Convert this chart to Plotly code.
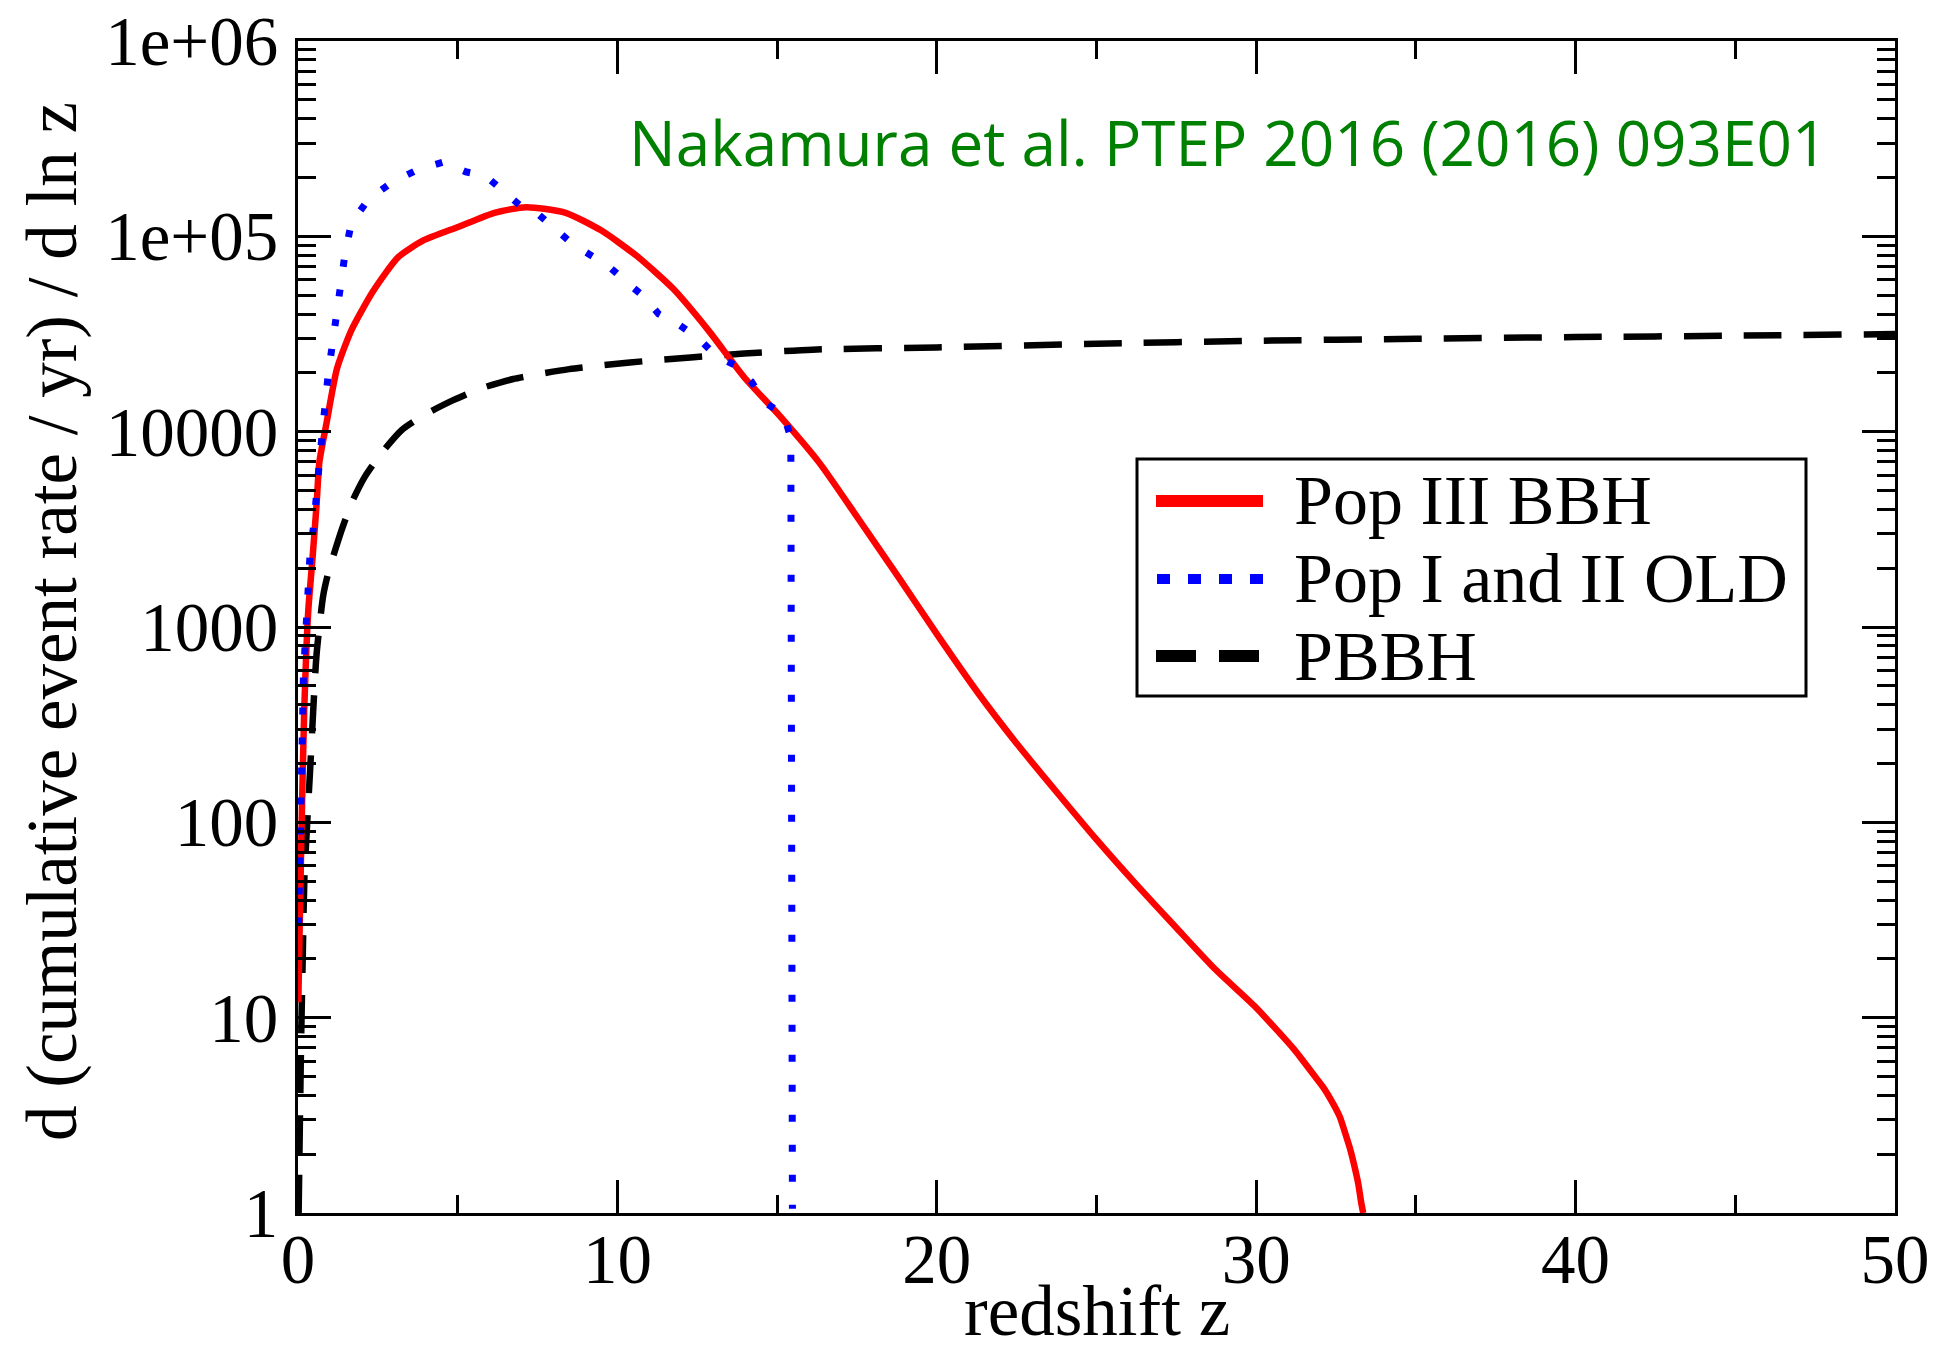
import plotly.graph_objects as go

# ---- data: d(cumulative event rate / yr) / d ln z versus redshift z ----
pop3_z = [0.01, 0.05, 0.115, 0.19, 0.32, 0.45, 0.58, 0.67, 0.89, 1.22, 1.67, 2.34,
          3.13, 3.91, 5.03, 6.15, 7.14, 8.38, 9.50, 10.62, 11.74, 12.85, 13.97,
          15.09, 16.33, 17.56, 18.80, 20.04, 21.28, 22.52, 23.75, 24.99, 26.23,
          27.47, 28.70, 29.94, 31.18, 31.80, 32.10, 32.42, 32.62, 32.79, 32.95,
          33.10, 33.20, 33.28, 33.35]
pop3_rate = [12, 28, 100, 350, 1200, 2200, 4200, 7000, 11000, 21000, 33000, 52000,
             78000, 95000, 112000, 132000, 141000, 132000, 107000, 79000, 54000,
             33000, 19000, 12000, 6900, 3550, 1800, 900, 462, 251, 143, 82, 48.4,
             29.2, 17.8, 11.5, 6.9, 5.1, 4.4, 3.6, 3.1, 2.55, 2.1,
             1.67, 1.4, 1.15, 1.0]

pop12_z = [0.02, 0.10, 0.17, 0.38, 0.50, 0.67, 0.83, 0.95, 1.09, 1.20, 1.36, 1.47,
           1.67, 2.21, 2.96, 3.74, 4.56, 5.25, 5.87, 6.43, 6.93, 7.54, 8.05, 8.61,
           9.22, 9.78, 10.30, 10.84, 11.29, 11.96, 12.54, 13.08, 13.66, 14.20,
           14.64, 15.20, 15.43, 15.48]
pop12_rate = [30, 135, 560, 2400, 3400, 7000, 14000, 20000, 29000, 41000, 58000,
              81000, 117000, 155000, 190000, 219000, 240000, 214000, 204000, 170000,
              145000, 129000, 110000, 91000, 79000, 69000, 58000, 49000, 40000,
              35000, 30000, 24500, 22000, 18000, 14000, 12300, 9300, 1.05]

pbbh_z = [0.02, 0.06, 0.10, 0.15, 0.20, 0.38, 0.58, 0.79, 0.95, 1.37, 1.70, 2.10,
          2.65, 3.25, 4.00, 4.86, 5.70, 6.74, 8.49, 10.39, 12.29, 13.97, 16.10,
          20.0, 25.0, 30.0, 35.0, 40.0, 45.0, 50.0]
pbbh_rate = [1.0, 3.0, 8.0, 21, 52, 186, 720, 1450, 1900, 3150, 4400, 5900, 7900,
             10200, 12300, 14500, 16600, 18600, 20900, 22600, 24000, 25100, 26300,
             27000, 28200, 29200, 29900, 30500, 31000, 31600]

x_tick_vals = [0, 10, 20, 30, 40, 50]
y_tick_vals = [1, 10, 100, 1000, 10000, 100000, 1000000]
y_tick_text = ["1", "10", "100", "1000", "10000", "1e+05", "1e+06"]

series_names = ["Pop III BBH", "Pop I and II OLD", "PBBH"]

# ---- page geometry (pixels) ----
W, H = 1938, 1352
L, R, T, B = 298, 1895, 41, 1213


def px_x(px):
    return (px - L) / (R - L)


def px_y(py):
    return (B - py) / (B - T)


SERIF = "Liberation Serif, Times New Roman, serif"

fig = go.Figure()
fig.add_trace(go.Scatter(x=pbbh_z, y=pbbh_rate, mode="lines", name=series_names[2],
                         line=dict(color="black", width=6.5, dash="38px,22px",
                                   shape="spline", smoothing=0.6),
                         showlegend=False))
fig.add_trace(go.Scatter(x=pop3_z, y=pop3_rate, mode="lines", name=series_names[0],
                         line=dict(color="#ff0000", width=6.5, shape="spline",
                                   smoothing=0.6),
                         showlegend=False))
fig.add_trace(go.Scatter(x=pop12_z, y=pop12_rate, mode="lines", name=series_names[1],
                         line=dict(color="#0000ff", width=7, dash="7px,23px"),
                         showlegend=False))

axis_common = dict(
    showline=True, linewidth=3, linecolor="black", mirror="ticks",
    ticks="inside", ticklen=33, tickwidth=2.5, tickcolor="black",
    showgrid=False, zeroline=False,
    tickfont=dict(family=SERIF, size=69, color="black"),
)

fig.update_xaxes(range=[0, 50], tickvals=x_tick_vals, ticklabelstandoff=-16,
                 minor=dict(ticks="inside", ticklen=18, tickwidth=2.5,
                            tickcolor="black", dtick=5, showgrid=False),
                 **axis_common)
fig.update_yaxes(type="log", range=[0, 6], tickvals=y_tick_vals, ticktext=y_tick_text,
                 ticklabelstandoff=3,
                 minor=dict(ticks="inside", ticklen=18, tickwidth=2.5,
                            tickcolor="black", dtick="D1", showgrid=False),
                 **axis_common)

annotations = [
    # x-axis title sits on the bottom edge of the page
    dict(text="redshift z", x=0.5, y=px_y(H), xref="paper", yref="paper",
         showarrow=False, xanchor="center", yanchor="bottom",
         font=dict(family=SERIF, size=71, color="black")),
    dict(text="d (cumulative event rate / yr) / d ln z", x=px_x(52), y=px_y(622),
         xref="paper", yref="paper", showarrow=False, textangle=-90,
         xanchor="center", yanchor="middle",
         font=dict(family=SERIF, size=71, color="black")),
    dict(text="Nakamura et al. PTEP 2016 (2016) 093E01", x=px_x(1829), y=px_y(142),
         xref="paper", yref="paper", showarrow=False, xanchor="right",
         yanchor="middle", font=dict(family="Open Sans", size=62, color="#008000")),
]

# ---- legend box ----
shapes = [dict(type="rect", xref="paper", yref="paper",
               x0=px_x(1137), x1=px_x(1806), y0=px_y(696), y1=px_y(459),
               line=dict(color="black", width=3), fillcolor="white", layer="above")]
legend_rows = [
    (series_names[0], 501, dict(color="#ff0000", width=12), 1156, 1263),
    (series_names[1], 579, dict(color="#0000ff", width=10, dash="13px,18px"), 1157, 1263),
    (series_names[2], 656, dict(color="black", width=12, dash="40px,23px"), 1156, 1259),
]
for label, yc, line_style, xs0, xs1 in legend_rows:
    shapes.append(dict(type="line", xref="paper", yref="paper",
                       x0=px_x(xs0), x1=px_x(xs1), y0=px_y(yc), y1=px_y(yc),
                       line=line_style, layer="above"))
    annotations.append(dict(text=label, x=px_x(1292), y=px_y(yc), xref="paper",
                            yref="paper", showarrow=False, xanchor="left",
                            yanchor="middle",
                            font=dict(family=SERIF, size=70, color="black")))

fig.update_layout(
    width=W, height=H,
    margin=dict(l=L, r=W - R, t=T, b=H - B, autoexpand=False),
    plot_bgcolor="white", paper_bgcolor="white",
    annotations=annotations, shapes=shapes,
    showlegend=False,
)

fig.write_html("out.html")
